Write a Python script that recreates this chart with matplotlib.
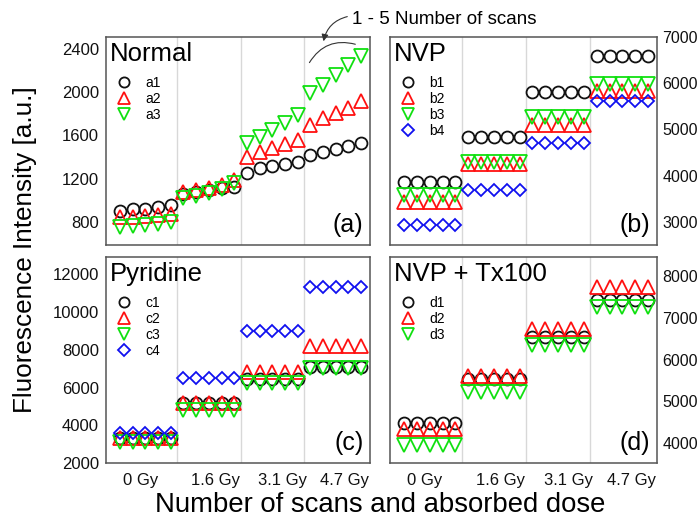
import matplotlib
matplotlib.use("Agg")
import matplotlib.pyplot as plt

plt.rcParams['font.family'] = ['Liberation Sans', 'DejaVu Sans']

# scan index 1..20 (5 scans x 4 doses)
scans = list(range(1, 21))
dose_labels = ["0 Gy", "1.6 Gy", "3.1 Gy", "4.7 Gy"]

# (a) Normal
a1 = [905, 917, 920, 936, 960, 1060, 1080, 1095, 1110, 1125,
      1250, 1300, 1320, 1335, 1352, 1420, 1450, 1475, 1497, 1528]
a2 = [845, 850, 855, 860, 870, 1080, 1096, 1117, 1142, 1188,
      1404, 1450, 1482, 1521, 1558, 1697, 1759, 1805, 1852, 1913]
a3 = [750, 760, 770, 785, 800, 1020, 1035, 1070, 1105, 1160,
      1528, 1589, 1651, 1713, 1790, 1990, 2067, 2160, 2252, 2335]

# (b) NVP
b1 = [3870, 3870, 3870, 3870, 3870, 4830, 4830, 4830, 4830, 4830,
      5815, 5815, 5815, 5815, 5815, 6590, 6590, 6590, 6590, 6590]
b2 = [3425, 3425, 3425, 3425, 3425, 4245, 4245, 4245, 4245, 4245,
      5095, 5095, 5095, 5095, 5095, 5825, 5825, 5825, 5825, 5825]
b3 = [3590, 3590, 3590, 3590, 3590, 4305, 4305, 4305, 4305, 4305,
      5265, 5265, 5265, 5265, 5265, 5990, 5990, 5990, 5990, 5990]
b4 = [2935, 2935, 2935, 2935, 2935, 3680, 3680, 3680, 3680, 3680,
      4715, 4715, 4715, 4715, 4715, 5625, 5625, 5625, 5625, 5625]

# (c) Pyridine
c1 = [3300, 3300, 3300, 3300, 3300, 5190, 5190, 5190, 5190, 5190,
      6450, 6450, 6450, 6450, 6450, 7100, 7100, 7100, 7100, 7100]
c2 = [3300, 3300, 3300, 3300, 3300, 5190, 5190, 5190, 5190, 5190,
      6800, 6800, 6800, 6800, 6800, 8190, 8190, 8190, 8190, 8190]
c3 = [3130, 3130, 3130, 3130, 3130, 4800, 4800, 4800, 4800, 4800,
      6250, 6250, 6250, 6250, 6250, 7060, 7060, 7060, 7060, 7060]
c4 = [3600, 3600, 3600, 3600, 3600, 6510, 6510, 6510, 6510, 6510,
      8980, 8980, 8980, 8980, 8980, 11330, 11330, 11330, 11330, 11330]

# (d) NVP + Tx100
d1 = [4470, 4470, 4470, 4470, 4470, 5525, 5525, 5525, 5525, 5525,
      6545, 6545, 6545, 6545, 6545, 7440, 7440, 7440, 7440, 7440]
d2 = [4330, 4330, 4330, 4330, 4330, 5595, 5595, 5595, 5595, 5595,
      6740, 6740, 6740, 6740, 6740, 7735, 7735, 7735, 7735, 7735]
d3 = [3960, 3960, 3960, 3960, 3960, 5215, 5215, 5215, 5215, 5215,
      6340, 6340, 6340, 6340, 6340, 7265, 7265, 7265, 7265, 7265]

BLACK, RED, GREEN, BLUE = "#111111", "#ff1010", "#10e010", "#1010f0"
styles = {
    "o": dict(marker="o", ms=8.6, mec=BLACK),
    "^": dict(marker="^", ms=10, mec=RED),
    "v": dict(marker="v", ms=10, mec=GREEN),
    "D": dict(marker="D", ms=6.6, mec=BLUE),
}

panels = [
    ("Normal", "(a)", [("a1", a1, "o"), ("a2", a2, "^"), ("a3", a3, "v")],
     (587, 2508), [800, 1200, 1600, 2000, 2400], "left"),
    ("NVP", "(b)", [("b1", b1, "o"), ("b2", b2, "^"), ("b3", b3, "v"), ("b4", b4, "D")],
     (2500, 7000), [3000, 4000, 5000, 6000, 7000], "right"),
    ("Pyridine", "(c)", [("c1", c1, "o"), ("c2", c2, "^"), ("c3", c3, "v"), ("c4", c4, "D")],
     (2000, 12920), [2000, 4000, 6000, 8000, 10000, 12000], "left"),
    ("NVP + Tx100", "(d)", [("d1", d1, "o"), ("d2", d2, "^"), ("d3", d3, "v")],
     (3520, 8460), [4000, 5000, 6000, 7000, 8000], "right"),
]

W, H = 700, 521
fig = plt.figure(figsize=(7, 5.21), dpi=100)
boxes = [(106, 370, 37, 245), (390, 657, 37, 245),
         (106, 370, 257, 463), (390, 657, 257, 463)]

axes = []
for i, (title, tag, series, ylim, yticks, side) in enumerate(panels):
    x0, x1, y0, y1 = boxes[i]
    ax = fig.add_axes([x0 / W, 1 - y1 / H, (x1 - x0) / W, (y1 - y0) / H])
    axes.append(ax)
    for lab, vals, m in series:
        st = styles[m]
        ax.plot(scans, vals, linestyle="none", marker=st["marker"], ms=st["ms"],
                mfc="none", mec=st["mec"], mew=1.3, label=lab)
    for b in [5.5, 10.5, 15.5]:
        ax.axvline(b, color="#d8d8d8", lw=1.0, zorder=0)
    ax.set_xlim(-0.1, 20.7)
    ax.set_ylim(*ylim)
    ax.set_yticks(yticks)
    ax.set_xticks([2.6, 8.5, 13.8, 18.7])
    if i >= 2:
        ax.set_xticklabels(dose_labels)
    else:
        ax.set_xticklabels([])
    ax.tick_params(axis="x", length=0, labelsize=12, pad=7, colors="#111111")
    if side == "right":
        ax.yaxis.tick_right()
        ax.tick_params(axis="y", length=0, labelsize=11.5, pad=4, colors="#111111")
    else:
        ax.tick_params(axis="y", length=0, labelsize=12, pad=5, colors="#111111")
    for sp in ax.spines.values():
        sp.set_color("#555555")
        sp.set_linewidth(1.1)
    ax.text(0.015, 0.975, title, transform=ax.transAxes, ha="left", va="top",
            fontsize=18.5)
    ax.text(0.975, 0.04, tag, transform=ax.transAxes, ha="right", va="bottom",
            fontsize=18)
    ax.legend(loc="upper left", bbox_to_anchor=(0.0, 0.86), frameon=False,
              fontsize=10, handlelength=1.2, handletextpad=0.9,
              labelspacing=0.15, borderaxespad=0.3, markerscale=0.85)

fig.text(25 / W, 0.5 * (1 - 37 / H + 1 - 463 / H), "Fluorescence Intensity [a.u.]",
         rotation=90, ha="center", va="center", fontsize=18.8)
fig.text(380 / W, 1 - 505 / H, "Number of scans and absorbed dose",
         ha="center", va="center", fontsize=19.8)

# "1 - 5 Number of scans" annotation
fig.text(352 / W, 1 - 19 / H, "1 - 5 Number of scans", ha="left", va="center",
         fontsize=13.5)
axa = axes[0]
axa.annotate("", xy=(323 / W, 1 - 44 / H), xycoords="figure fraction",
             xytext=(350 / W, 1 - 16 / H), textcoords="figure fraction",
             arrowprops=dict(arrowstyle="-|>", color="#333333", lw=0.8,
                             connectionstyle="arc3,rad=0.35",
                             mutation_scale=10),
             annotation_clip=False)
axa.annotate("", xy=(358 / W, 1 - 45 / H), xycoords="figure fraction",
             xytext=(308 / W, 1 - 65 / H), textcoords="figure fraction",
             arrowprops=dict(arrowstyle="-", color="#333333", lw=0.8,
                             connectionstyle="arc3,rad=-0.4"),
             annotation_clip=False)

fig.savefig("out.png", dpi=100)
